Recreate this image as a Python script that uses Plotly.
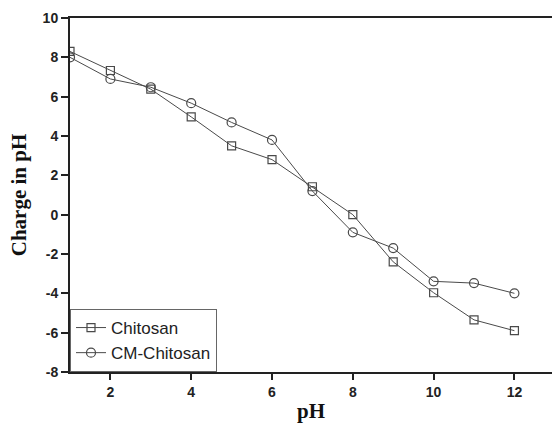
import plotly.graph_objects as go

ph = [1, 2, 3, 4, 5, 6, 7, 8, 9, 10, 11, 12]
chitosan = [8.3, 7.33, 6.38, 4.97, 3.5, 2.8, 1.42, 0.0, -2.4, -3.97, -5.35, -5.9]
cm_chitosan = [8.0, 6.9, 6.48, 5.67, 4.69, 3.8, 1.2, -0.9, -1.7, -3.39, -3.48, -4.0]
x_ticks = [2, 4, 6, 8, 10, 12]
y_ticks = [-8, -6, -4, -2, 0, 2, 4, 6, 8, 10]
y_labels = ["-8", "-6", "-4", "-2", "0", "2", "4", "6", "8", "10"]

line_col = "#4a4a4a"
fig = go.Figure()
fig.add_trace(go.Scatter(x=ph, y=chitosan, name="Chitosan", mode="lines+markers",
                         line=dict(color=line_col, width=1),
                         marker=dict(symbol="square-open", size=8, color=line_col, line=dict(width=1.2))))
fig.add_trace(go.Scatter(x=ph, y=cm_chitosan, name="CM-Chitosan", mode="lines+markers",
                         line=dict(color=line_col, width=1),
                         marker=dict(symbol="circle-open", size=9, color=line_col, line=dict(width=1.2))))

tick_font = dict(family="Arial, Liberation Sans", size=14, color="#222222", weight="bold")
fig.update_layout(
    width=552, height=423,
    margin=dict(l=70, r=0, t=18, b=51),
    plot_bgcolor="white", paper_bgcolor="white",
    showlegend=True,
    legend=dict(x=0, y=0, xanchor="left", yanchor="bottom",
                bgcolor="white", bordercolor="#666666", borderwidth=1,
                font=dict(family="Arial, Liberation Sans", size=17, color="#222222"),
                tracegroupgap=0, itemwidth=30),
    xaxis=dict(range=[1, 12.93], tickvals=x_ticks, showgrid=False, zeroline=False,
               showline=True, linecolor="#222222", linewidth=2, mirror=True,
               ticks="outside", ticklen=6, tickwidth=1.5, tickcolor="#222222",
               tickfont=tick_font,
               title=dict(text="<b>pH</b>", font=dict(family="Times New Roman, Liberation Serif", size=21, color="#111111"), standoff=6)),
    yaxis=dict(range=[-8, 10], tickvals=y_ticks, ticktext=y_labels, showgrid=False, zeroline=False,
               showline=True, linecolor="#222222", linewidth=2,
               ticks="outside", ticklen=7, tickwidth=1.5, tickcolor="#222222",
               tickfont=tick_font,
               title=dict(text="<b>Charge in pH</b>", font=dict(family="Times New Roman, Liberation Serif", size=21, color="#111111"), standoff=10)),
)
fig.write_html("out.html")
